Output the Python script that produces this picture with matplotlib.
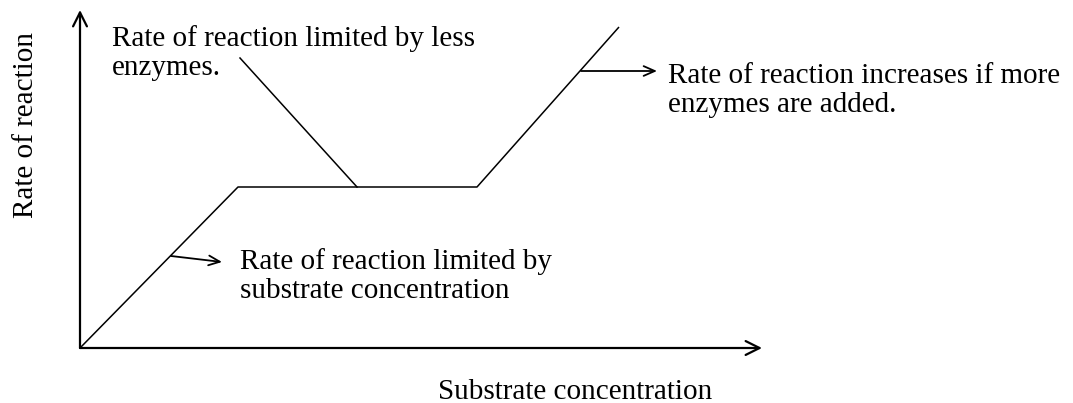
import matplotlib
matplotlib.use("Agg")
import matplotlib.pyplot as plt

plt.rcParams['font.family'] = ['Liberation Serif', 'DejaVu Serif']

# curve: substrate concentration vs rate (arbitrary units)
substrate = [0.0, 15.8, 39.7, 53.9]
rate = [0.0, 16.1, 16.1, 32.1]

x_axis_end = 68.2
y_axis_end = 33.8

x_label = "Substrate concentration"
y_label = "Rate of reaction"

note_less = "Rate of reaction limited by less\nenzymes."
note_substrate = "Rate of reaction limited by\nsubstrate concentration"
note_more = "Rate of reaction increases if more\nenzymes are added."

fig = plt.figure(figsize=(10.73, 4.03), dpi=100)
ax = fig.add_axes([0, 0, 1, 1])
ax.set_xlim(-8.0, 99.3)
ax.set_ylim(-5.5, 34.8)
ax.axis('off')

# axes with open arrowheads
arrow_kw = dict(arrowstyle='->,head_length=1.0,head_width=0.5', lw=1.6, color='black',
                shrinkA=0, shrinkB=0)
ax.annotate('', xy=(x_axis_end, 0), xytext=(0, 0), arrowprops=arrow_kw)
ax.annotate('', xy=(0, y_axis_end), xytext=(0, 0), arrowprops=arrow_kw)

ax.plot(substrate, rate, color='black', lw=1.1, solid_capstyle='butt')

fs = 21
ls = 1.17
ax.text(49.5, -5.1, x_label, ha='center', va='baseline', fontsize=fs)
ax.text(-5.4, 22.3, y_label, rotation=90, ha='center', va='center', fontsize=fs)

# pointer for plateau note
ax.plot([27.7, 16.0], [rate[1], 29.0], color='black', lw=1.1)
ax.text(3.2, 32.3, note_less, ha='left', va='top', fontsize=fs, linespacing=ls)

# pointer arrows
pointer_kw = dict(arrowstyle='->,head_length=0.8,head_width=0.35', lw=1.3, color='black',
                  shrinkA=0, shrinkB=0)
ax.annotate('', xy=(14.2, 8.6), xytext=(9.1, 9.2), arrowprops=pointer_kw)
ax.text(16.0, 10.0, note_substrate, ha='left', va='top', fontsize=fs, linespacing=ls)

ax.annotate('', xy=(57.7, 27.7), xytext=(50.1, 27.7), arrowprops=pointer_kw)
ax.text(58.8, 28.5, note_more, ha='left', va='top', fontsize=fs, linespacing=ls)

fig.savefig('out.png', dpi=100)
